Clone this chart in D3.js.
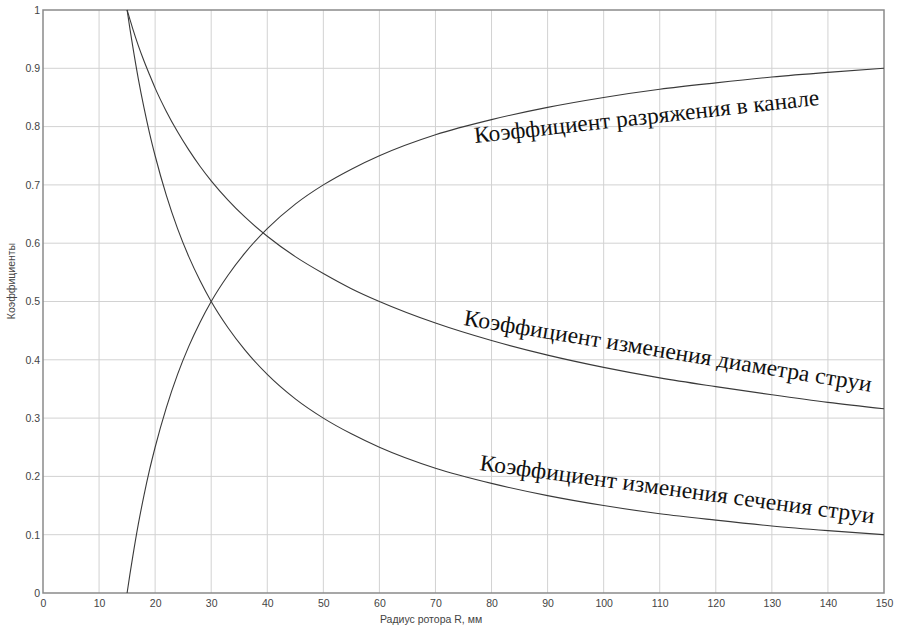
<!DOCTYPE html>
<html>
<head>
<meta charset="utf-8">
<script src="https://cdn.jsdelivr.net/npm/d3@7"></script>
<style>
  body { margin: 0; background: #fff; }
  svg { display: block; }
</style>
</head>
<body>
<svg id="chart" width="902" height="631"></svg>
<script>
// радиус ротора R, мм
const radius = [15, 15.5, 16, 17, 18, 19, 20, 22, 24, 26, 28, 30, 33, 36, 40, 45, 50, 55, 60, 70, 80, 90, 100, 110, 120, 130, 140, 150]

// коэффициент изменения сечения струи
const sechenie = [1.000, 0.968, 0.938, 0.882, 0.833, 0.789, 0.750, 0.682, 0.625, 0.577, 0.536, 0.500, 0.455, 0.417, 0.375, 0.333, 0.300, 0.273, 0.250, 0.214, 0.188, 0.167, 0.150, 0.136, 0.125, 0.115, 0.107, 0.100]

// коэффициент изменения диаметра струи
const diametr = [1.000, 0.984, 0.968, 0.939, 0.913, 0.889, 0.866, 0.826, 0.791, 0.760, 0.732, 0.707, 0.674, 0.645, 0.612, 0.577, 0.548, 0.522, 0.500, 0.463, 0.433, 0.408, 0.387, 0.369, 0.354, 0.340, 0.327, 0.316]

// коэффициент разряжения в канале
const razr = [0.000, 0.032, 0.062, 0.118, 0.167, 0.211, 0.250, 0.318, 0.375, 0.423, 0.464, 0.500, 0.545, 0.583, 0.625, 0.667, 0.700, 0.727, 0.750, 0.786, 0.812, 0.833, 0.850, 0.864, 0.875, 0.885, 0.893, 0.900]

const xTicks = [0, 10, 20, 30, 40, 50, 60, 70, 80, 90, 100, 110, 120, 130, 140, 150]
const yTicks = [0, 0.1, 0.2, 0.3, 0.4, 0.5, 0.6, 0.7, 0.8, 0.9, 1]

const labels = [
  {text: "Коэффициент разряжения в канале", x: 475, y: 143, angle: -6.3, len: 347},
  {text: "Коэффициент изменения диаметра струи", x: 463, y: 325, angle: 9.3, len: 413},
  {text: "Коэффициент изменения сечения струи", x: 479, y: 470, angle: 7.7, len: 398}
]

const margin = {left: 43, top: 10, right: 18, bottom: 38}
const W = 902, H = 631

const svg = d3.select("#chart")

const x = d3.scaleLinear().domain([0, 150]).range([margin.left, W - margin.right])
const y = d3.scaleLinear().domain([0, 1]).range([H - margin.bottom, margin.top])

// сетка
svg.append("g")
  .selectAll("line")
  .data(xTicks.slice(1, -1))
  .join("line")
  .attr("x1", d => x(d)).attr("x2", d => x(d))
  .attr("y1", y(0)).attr("y2", y(1))
  .attr("stroke", "#d2d2d2").attr("stroke-width", 1)

svg.append("g")
  .selectAll("line")
  .data(yTicks.slice(1, -1))
  .join("line")
  .attr("x1", x(0)).attr("x2", x(150))
  .attr("y1", d => y(d)).attr("y2", d => y(d))
  .attr("stroke", "#d2d2d2").attr("stroke-width", 1)

// рамка
svg.append("rect")
  .attr("x", x(0)).attr("y", y(1))
  .attr("width", x(150) - x(0)).attr("height", y(0) - y(1))
  .attr("fill", "none").attr("stroke", "#8a8a8a").attr("stroke-width", 1.5)

// оси
const xAxis = svg.append("g")
  .attr("transform", `translate(0,${y(0)})`)
  .call(d3.axisBottom(x).tickValues(xTicks).tickSize(0).tickPadding(7).tickFormat(d3.format("d")))
xAxis.select(".domain").remove()

const yAxis = svg.append("g")
  .attr("transform", `translate(${x(0)},0)`)
  .call(d3.axisLeft(y).tickValues(yTicks).tickSize(0).tickPadding(3).tickFormat(d => d === 0 || d === 1 ? d3.format("d")(d) : d3.format(".1f")(d)))
yAxis.select(".domain").remove()

svg.selectAll(".tick text")
  .attr("font-family", "'Liberation Sans', Arial, sans-serif")
  .attr("font-size", 10.5)
  .attr("fill", "#444")

// кривые
const series = [sechenie, diametr, razr]
const line = d3.line()
  .x((d, i) => x(radius[i]))
  .y(d => y(d))
  .curve(d3.curveMonotoneX)

svg.append("g")
  .selectAll("path")
  .data(series)
  .join("path")
  .attr("d", line)
  .attr("fill", "none")
  .attr("stroke", "#3a3a3a")
  .attr("stroke-width", 1.1)

// подписи кривых
svg.append("g")
  .selectAll("text")
  .data(labels)
  .join("text")
  .attr("transform", d => `translate(${d.x},${d.y}) rotate(${d.angle})`)
  .attr("font-family", "'Liberation Serif', 'Times New Roman', serif")
  .attr("font-size", 23)
  .attr("fill", "#111")
  .attr("textLength", d => d.len)
  .attr("lengthAdjust", "spacingAndGlyphs")
  .text(d => d.text)

// названия осей
svg.append("text")
  .attr("x", 431).attr("y", 623)
  .attr("text-anchor", "middle")
  .attr("font-family", "'Liberation Sans', Arial, sans-serif")
  .attr("font-size", 10.5)
  .attr("fill", "#444")
  .text("Радиус ротора R, мм")

svg.append("text")
  .attr("transform", "translate(15,281) rotate(-90)")
  .attr("text-anchor", "middle")
  .attr("font-family", "'Liberation Sans', Arial, sans-serif")
  .attr("font-size", 10.5)
  .attr("fill", "#444")
  .text("Коэффициенты")
</script>
</body>
</html>
